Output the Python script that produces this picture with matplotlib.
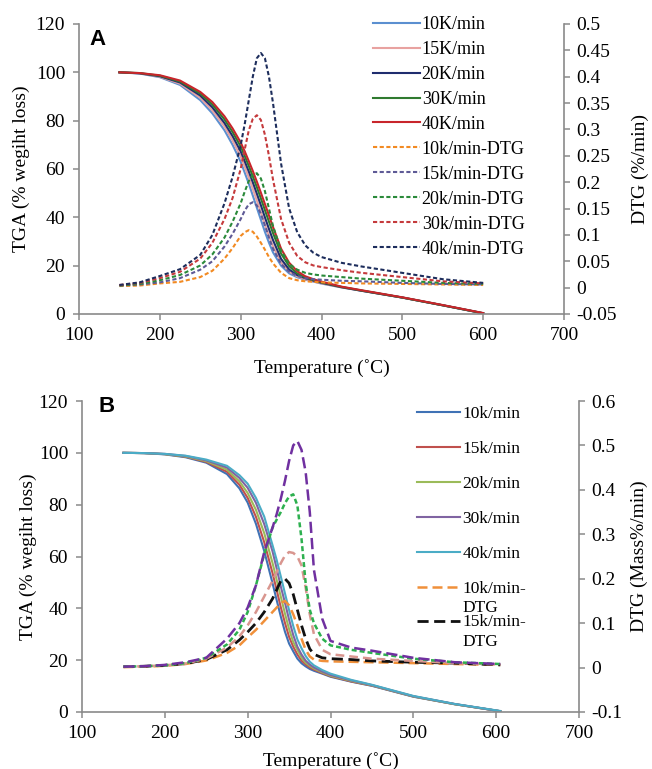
import numpy as np
import matplotlib
matplotlib.use("Agg")
import matplotlib.pyplot as plt
from matplotlib.legend_handler import HandlerLine2D

plt.rcParams['font.family'] = ['Liberation Serif', 'DejaVu Serif']

# ---------------- Panel A data ----------------
temp_a = [150, 175, 200, 225, 250, 265, 280, 290, 300, 305, 310, 315, 320, 325,
          330, 335, 340, 350, 360, 370, 380, 390, 400, 425, 450, 500, 550, 600]

tga_a_10 = [100, 99.5, 98, 94.8, 88.5, 83, 76, 70, 63, 58.5, 54, 49, 44, 39,
            34, 29.5, 25.5, 20, 16.8, 15.2, 14.2, 13.4, 12.6, 11, 9.6, 6.8, 3.6, 0.3]
tga_a_15 = [100, 99.6, 98.2, 95.3, 89.5, 84.2, 77.6, 71.8, 65.2, 61, 56.5, 51.8, 47, 42,
            37, 32.3, 28, 21.3, 17.5, 15.6, 14.4, 13.5, 12.7, 11, 9.6, 6.8, 3.6, 0.3]
tga_a_20 = [100, 99.6, 98.4, 95.8, 90.4, 85.5, 79, 73.6, 67.3, 63.2, 59, 54.5, 49.8, 45,
            40, 35.2, 30.6, 22.8, 18.4, 16.1, 14.8, 13.8, 12.9, 11.1, 9.6, 6.8, 3.6, 0.3]
tga_a_30 = [100, 99.7, 98.6, 96.2, 91.2, 86.7, 80.5, 75.3, 69.3, 65.4, 61.3, 57, 52.5, 47.8,
            43, 38.2, 33.5, 25, 19.8, 16.8, 15.1, 14.1, 13.1, 11.2, 9.7, 6.8, 3.6, 0.3]
tga_a_40 = [100, 99.7, 98.8, 96.6, 91.9, 87.7, 81.8, 76.8, 71, 67.3, 63.3, 59.2, 54.8, 50.2,
            45.5, 40.8, 36, 27, 21.2, 17.7, 15.6, 14.4, 13.4, 11.3, 9.8, 6.9, 3.7, 0.4]

dtg_a_10 = [0.003, 0.004, 0.008, 0.011, 0.02, 0.032, 0.055, 0.075, 0.098, 0.105, 0.109, 0.106, 0.097, 0.085,
            0.072, 0.058, 0.046, 0.028, 0.018, 0.014, 0.012, 0.011, 0.010, 0.009, 0.008, 0.007, 0.006, 0.005]
dtg_a_15 = [0.004, 0.006, 0.010, 0.018, 0.034, 0.050, 0.078, 0.102, 0.130, 0.146, 0.158, 0.162, 0.156, 0.140,
            0.118, 0.095, 0.074, 0.045, 0.030, 0.022, 0.018, 0.016, 0.015, 0.013, 0.012, 0.009, 0.007, 0.006]
dtg_a_20 = [0.004, 0.007, 0.014, 0.024, 0.042, 0.063, 0.095, 0.125, 0.160, 0.182, 0.202, 0.214, 0.217, 0.207,
            0.183, 0.150, 0.117, 0.070, 0.045, 0.034, 0.028, 0.025, 0.023, 0.020, 0.017, 0.013, 0.009, 0.007]
dtg_a_30 = [0.005, 0.009, 0.018, 0.030, 0.055, 0.085, 0.130, 0.170, 0.225, 0.262, 0.298, 0.320, 0.327, 0.318,
            0.290, 0.250, 0.205, 0.130, 0.085, 0.060, 0.048, 0.042, 0.039, 0.033, 0.028, 0.020, 0.012, 0.008]
dtg_a_40 = [0.005, 0.010, 0.022, 0.035, 0.062, 0.100, 0.160, 0.210, 0.270, 0.310, 0.355, 0.400, 0.435, 0.445,
            0.435, 0.400, 0.350, 0.235, 0.150, 0.105, 0.080, 0.066, 0.058, 0.047, 0.040, 0.028, 0.016, 0.009]

labels_a_tga = ['10K/min', '15K/min', '20K/min', '30K/min', '40K/min']
labels_a_dtg = ['10k/min-DTG', '15k/min-DTG', '20k/min-DTG', '30k/min-DTG', '40k/min-DTG']

# ---------------- Panel B data ----------------
temp_b = [150, 175, 200, 225, 250, 275, 290, 300, 310, 320, 330, 335, 340, 345,
          350, 355, 360, 365, 370, 375, 380, 390, 400, 425, 450, 500, 550, 605]

tga_b_10 = [100, 99.9, 99.4, 98.3, 96.2, 91.8, 86.3, 80.8, 72.6, 62.1, 49.7, 43.2, 36.8, 31,
            26.4, 23.4, 20.6, 18.8, 17.6, 16.6, 15.9, 14.8, 13.6, 11.7, 10.1, 5.9, 3.0, 0.3]
tga_b_15 = [100, 99.9, 99.5, 98.5, 96.5, 92.7, 87.7, 82.6, 75.3, 65.5, 53.6, 47.1, 40.4, 34.4,
            29, 25.2, 22.2, 19.8, 18.4, 17.2, 16.4, 15, 13.8, 11.8, 10.2, 6.0, 3.0, 0.3]
tga_b_20 = [100, 99.9, 99.5, 98.6, 96.8, 93.5, 89, 84.5, 78, 69, 57.5, 51, 44.5, 38,
            32, 27, 24, 21, 19, 17.8, 16.8, 15.3, 14, 12, 10.3, 6.0, 3.0, 0.3]
tga_b_30 = [100, 99.9, 99.6, 98.8, 97.1, 94.3, 90.3, 86.5, 80.7, 72.5, 62, 55.4, 48.4, 42.2,
            35.6, 29.7, 25.2, 22.2, 19.8, 18.3, 17.2, 15.6, 14.3, 12.2, 10.4, 6.1, 3.1, 0.3]
tga_b_40 = [100, 99.9, 99.6, 98.9, 97.4, 95, 91.4, 88.1, 82.6, 75.4, 64.4, 58.7, 52.3, 45.8,
            39.3, 33.2, 28, 24.6, 21.6, 19.4, 18, 16.2, 14.8, 12.4, 10.5, 6.2, 3.1, 0.4]

dtg_b_10 = [0.001, 0.002, 0.004, 0.008, 0.016, 0.033, 0.050, 0.068, 0.085, 0.105, 0.125, 0.135, 0.145, 0.150,
            0.140, 0.120, 0.095, 0.065, 0.040, 0.025, 0.018, 0.015, 0.014, 0.013, 0.012, 0.010, 0.008, 0.006]
dtg_b_15 = [0.002, 0.003, 0.005, 0.009, 0.018, 0.040, 0.062, 0.080, 0.100, 0.125, 0.155, 0.175, 0.195, 0.200,
            0.190, 0.165, 0.130, 0.095, 0.065, 0.042, 0.030, 0.022, 0.020, 0.018, 0.015, 0.012, 0.010, 0.006]
dtg_b_20 = [0.002, 0.003, 0.005, 0.009, 0.020, 0.045, 0.070, 0.095, 0.125, 0.160, 0.195, 0.215, 0.235, 0.252,
            0.260, 0.258, 0.250, 0.230, 0.180, 0.120, 0.075, 0.040, 0.030, 0.025, 0.020, 0.015, 0.010, 0.007]
dtg_b_30 = [0.002, 0.003, 0.005, 0.010, 0.022, 0.052, 0.085, 0.125, 0.185, 0.255, 0.315, 0.333, 0.350, 0.370,
            0.385, 0.390, 0.365, 0.290, 0.190, 0.130, 0.100, 0.065, 0.050, 0.040, 0.033, 0.020, 0.012, 0.008]
dtg_b_40 = [0.002, 0.003, 0.006, 0.012, 0.022, 0.065, 0.100, 0.135, 0.185, 0.260, 0.315, 0.345, 0.380, 0.420,
            0.465, 0.500, 0.510, 0.490, 0.440, 0.350, 0.220, 0.110, 0.060, 0.045, 0.038, 0.022, 0.012, 0.008]

labels_b_tga = ['10k/min', '15k/min', '20k/min', '30k/min', '40k/min']
labels_b_dtg = ['10k/min-\nDTG', '15k/min-\nDTG']

GREY = '#8a8a8a'


class UpShiftHandler(HandlerLine2D):
    def __init__(self, shift, **kw):
        super().__init__(**kw)
        self.shift = shift

    def create_artists(self, legend, orig_handle, xdescent, ydescent, width,
                       height, fontsize, trans):
        arts = super().create_artists(legend, orig_handle, xdescent, ydescent,
                                      width, height, fontsize, trans)
        for a in arts:
            y = np.asarray(a.get_ydata(), float)
            a.set_ydata(y + self.shift * fontsize)
        return arts


def style_axes(ax, ax2, ylim, yticks, y2lim, y2ticks):
    ax.set_xlim(100, 700)
    ax.set_xticks(np.arange(100, 701, 100))
    ax.set_ylim(*ylim)
    ax.set_yticks(yticks)
    ax2.set_ylim(*y2lim)
    ax2.set_yticks(y2ticks)
    ax2.set_yticklabels(['%g' % round(v, 3) for v in y2ticks])
    for s in ['top', 'right']:
        ax.spines[s].set_visible(False)
    for s in ['left', 'bottom']:
        ax.spines[s].set_color(GREY)
        ax.spines[s].set_linewidth(1.2)
    for s in ['top', 'left', 'bottom']:
        ax2.spines[s].set_visible(False)
    ax2.spines['right'].set_color(GREY)
    ax2.spines['right'].set_linewidth(1.2)
    ax.tick_params(axis='x', direction='out', length=4, width=1.1, color=GREY,
                   labelsize=14, pad=5.5)
    ax.tick_params(axis='y', direction='out', length=4, width=1.1, color=GREY,
                   labelsize=14, pad=6)
    ax2.tick_params(axis='y', direction='out', length=4, width=1.1, color=GREY,
                    labelsize=14, pad=5)


fig = plt.figure(figsize=(6.52, 7.69), dpi=100)

# ================= Panel A =================
axA = fig.add_axes([79 / 652, 1 - 314 / 769, 485 / 652, 290 / 769])
axA2 = axA.twinx()
axA.set_zorder(1)
axA2.set_zorder(2)
axA.patch.set_visible(False)

tga_a = [tga_a_10, tga_a_15, tga_a_20, tga_a_30, tga_a_40]
dtg_a = [dtg_a_10, dtg_a_15, dtg_a_20, dtg_a_30, dtg_a_40]
tga_a_colors = ['#5b8fd0', '#e8a2a0', '#1f2d6e', '#2f7a2f', '#c8252b']
dtg_a_colors = ['#f28a22', '#5e5a96', '#2a8a3a', '#c53a3c', '#1d2d5c']

handlesA = []
for vals, c, lab in zip(tga_a, tga_a_colors, labels_a_tga):
    h, = axA.plot(temp_a, vals, color=c, lw=1.5, label=lab)
    handlesA.append(h)
for vals, c, lab in zip(dtg_a, dtg_a_colors, labels_a_dtg):
    h, = axA2.plot(temp_a, vals, color=c, lw=1.5, dashes=(2, 1.2), label=lab)
    handlesA.append(h)

style_axes(axA, axA2, (0, 120), np.arange(0, 121, 20), (-0.05, 0.5),
           np.round(np.arange(-0.05, 0.501, 0.05), 2))
axA.set_xlabel('Temperature (˚C)', fontsize=14)
axA.set_ylabel('TGA (% wegiht loss)', fontsize=14)
axA2.set_ylabel('DTG (%/min)', fontsize=14)
axA.xaxis.set_label_coords(0.5, -0.155)
axA.yaxis.set_label_coords(-0.1, 0.5)
axA2.yaxis.set_label_coords(1.14, 0.5)
axA.text(0.039, 0.948, 'A', transform=axA.transAxes, fontsize=16,
         fontweight='bold', family='Liberation Sans', ha='center', va='center',
         zorder=5)

legA = axA2.legend(handles=handlesA, loc='upper left',
                   bbox_to_anchor=(373 / 652, 1 - 16 / 769),
                   bbox_transform=fig.transFigure, frameon=False, fontsize=13,
                   borderpad=0, borderaxespad=0, handlelength=2.6,
                   handletextpad=0.1, labelspacing=0.44)

# ================= Panel B =================
axB = fig.add_axes([82 / 652, 1 - 712 / 769, 497 / 652, 311 / 769])
axB2 = axB.twinx()
axB.set_zorder(1)
axB2.set_zorder(2)
axB.patch.set_visible(False)

tga_b = [tga_b_10, tga_b_15, tga_b_20, tga_b_30, tga_b_40]
dtg_b = [dtg_b_10, dtg_b_15, dtg_b_20, dtg_b_30, dtg_b_40]
tga_b_colors = ['#3f72b5', '#c0504d', '#9bbb59', '#8064a2', '#4bacc6']
dtg_b_colors = ['#f0903a', '#111111', '#d9968f', '#2db04f', '#7030a0']
dtg_b_dashes = [(4, 2), (4, 2), (3.5, 2), (2, 1.2), (4.5, 2)]
dtg_b_lw = [1.8, 2.0, 1.8, 1.8, 1.8]

handlesB = []
for vals, c, lab in zip(tga_b, tga_b_colors, labels_b_tga):
    h, = axB.plot(temp_b, vals, color=c, lw=1.5, label=lab)
    handlesB.append(h)
dtg_handles_b = []
for i, (vals, c, d, lw) in enumerate(zip(dtg_b, dtg_b_colors, dtg_b_dashes, dtg_b_lw)):
    h, = axB2.plot(temp_b, vals, color=c, lw=lw, dashes=d)
    dtg_handles_b.append(h)

style_axes(axB, axB2, (0, 120), np.arange(0, 121, 20), (-0.1, 0.6),
           np.round(np.arange(-0.1, 0.601, 0.1), 1))
axB.set_xlabel('Temperature (˚C)', fontsize=14)
axB.set_ylabel('TGA (% wegiht loss)', fontsize=14)
axB2.set_ylabel('DTG (Mass%/min)', fontsize=14)
axB.xaxis.set_label_coords(0.5, -0.13)
axB.yaxis.set_label_coords(-0.09, 0.5)
axB2.yaxis.set_label_coords(1.105, 0.5)
axB.text(0.05, 0.982, 'B', transform=axB.transAxes, fontsize=16,
         fontweight='bold', family='Liberation Sans', ha='center', va='center',
         zorder=5)

legB1 = axB2.legend(handles=handlesB + [dtg_handles_b[0]],
                    labels=labels_b_tga + [labels_b_dtg[0]],
                    loc='upper left', bbox_to_anchor=(417 / 652, 1 - 406 / 769),
                    bbox_transform=fig.transFigure, frameon=False, fontsize=12.5,
                    borderpad=0, borderaxespad=0, handlelength=2.45,
                    handletextpad=0.15, labelspacing=1.08,
                    handler_map={dtg_handles_b[0]: UpShiftHandler(0.62)})
for t in legB1.get_texts():
    t.set_linespacing(1.3)
axB2.add_artist(legB1)
legB2 = axB2.legend(handles=[dtg_handles_b[1]], labels=[labels_b_dtg[1]],
                    loc='upper left', bbox_to_anchor=(417 / 652, 1 - 614 / 769),
                    bbox_transform=fig.transFigure, frameon=False, fontsize=12.5,
                    borderpad=0, borderaxespad=0, handlelength=2.45,
                    handletextpad=0.15,
                    handler_map={dtg_handles_b[1]: UpShiftHandler(0.62)})
for t in legB2.get_texts():
    t.set_linespacing(1.3)

fig.savefig('out.png', dpi=100)
